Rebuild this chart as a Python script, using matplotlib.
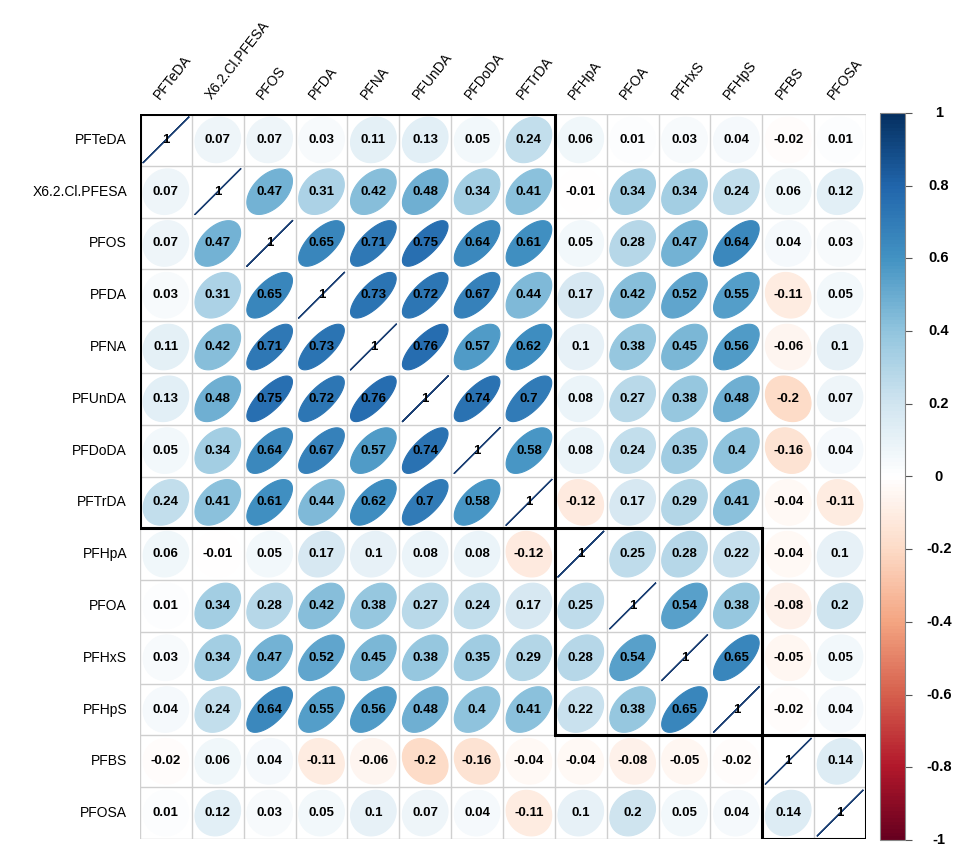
import numpy as np
import matplotlib
matplotlib.use("Agg")
import matplotlib.pyplot as plt
from matplotlib.colors import LinearSegmentedColormap, Normalize
from matplotlib.patches import Polygon, Rectangle
from matplotlib.colorbar import ColorbarBase

plt.rcParams['font.family'] = ['Liberation Sans', 'DejaVu Sans']

labels = ["PFTeDA", "X6.2.Cl.PFESA", "PFOS", "PFDA", "PFNA", "PFUnDA", "PFDoDA",
          "PFTrDA", "PFHpA", "PFOA", "PFHxS", "PFHpS", "PFBS", "PFOSA"]

corr_values = [
    [1, 0.07, 0.07, 0.03, 0.11, 0.13, 0.05, 0.24, 0.06, 0.01, 0.03, 0.04, -0.02, 0.01],
    [0.07, 1, 0.47, 0.31, 0.42, 0.48, 0.34, 0.41, -0.01, 0.34, 0.34, 0.24, 0.06, 0.12],
    [0.07, 0.47, 1, 0.65, 0.71, 0.75, 0.64, 0.61, 0.05, 0.28, 0.47, 0.64, 0.04, 0.03],
    [0.03, 0.31, 0.65, 1, 0.73, 0.72, 0.67, 0.44, 0.17, 0.42, 0.52, 0.55, -0.11, 0.05],
    [0.11, 0.42, 0.71, 0.73, 1, 0.76, 0.57, 0.62, 0.1, 0.38, 0.45, 0.56, -0.06, 0.1],
    [0.13, 0.48, 0.75, 0.72, 0.76, 1, 0.74, 0.7, 0.08, 0.27, 0.38, 0.48, -0.2, 0.07],
    [0.05, 0.34, 0.64, 0.67, 0.57, 0.74, 1, 0.58, 0.08, 0.24, 0.35, 0.4, -0.16, 0.04],
    [0.24, 0.41, 0.61, 0.44, 0.62, 0.7, 0.58, 1, -0.12, 0.17, 0.29, 0.41, -0.04, -0.11],
    [0.06, -0.01, 0.05, 0.17, 0.1, 0.08, 0.08, -0.12, 1, 0.25, 0.28, 0.22, -0.04, 0.1],
    [0.01, 0.34, 0.28, 0.42, 0.38, 0.27, 0.24, 0.17, 0.25, 1, 0.54, 0.38, -0.08, 0.2],
    [0.03, 0.34, 0.47, 0.52, 0.45, 0.38, 0.35, 0.29, 0.28, 0.54, 1, 0.65, -0.05, 0.05],
    [0.04, 0.24, 0.64, 0.55, 0.56, 0.48, 0.4, 0.41, 0.22, 0.38, 0.65, 1, -0.02, 0.04],
    [-0.02, 0.06, 0.04, -0.11, -0.06, -0.2, -0.16, -0.04, -0.04, -0.08, -0.05, -0.02, 1, 0.14],
    [0.01, 0.12, 0.03, 0.05, 0.1, 0.07, 0.04, -0.11, 0.1, 0.2, 0.05, 0.04, 0.14, 1],
]

# cluster groups (first index, last index)
clusters = [(0, 7), (8, 11), (12, 13)]

colorbar_ticks = [1, 0.8, 0.6, 0.4, 0.2, 0, -0.2, -0.4, -0.6, -0.8, -1]

cmap = LinearSegmentedColormap.from_list(
    "corrRdBu",
    ["#67001F", "#B2182B", "#D6604D", "#F4A582", "#FDDBC7", "#FFFFFF",
     "#D1E5F0", "#92C5DE", "#4393C3", "#2166AC", "#053061"], N=200)
norm = Normalize(-1, 1)

W, H = 956, 847
fig = plt.figure(figsize=(W / 100, H / 100), dpi=100)

n = len(labels)
gx0, gx1, gy0, gy1 = 140, 866, 114, 839
ax = fig.add_axes([gx0 / W, 1 - gy1 / H, (gx1 - gx0) / W, (gy1 - gy0) / H])
ax.set_xlim(-0.5, n - 0.5)
ax.set_ylim(n - 0.5, -0.5)
ax.set_axis_off()

# grid
for k in range(n + 1):
    ax.plot([k - 0.5, k - 0.5], [-0.5, n - 0.5], color="#cfcfcf", lw=1.0, zorder=1)
    ax.plot([-0.5, n - 0.5], [k - 0.5, k - 0.5], color="#cfcfcf", lw=1.0, zorder=1)

t = np.linspace(0, 2 * np.pi, 99)
M = np.array(corr_values, dtype=float)
for i in range(n):
    for j in range(n):
        r = M[i, j]
        a = np.arccos(np.clip(r, -1, 1)) / 2
        ex = np.cos(t + a) / 2 * 0.88
        ey = np.cos(t - a) / 2 * 0.88
        col = cmap(norm(r))
        if i == j:
            ax.plot(j + ex, i - ey, color="#1b3f73", lw=1.0, zorder=2)
        else:
            poly = Polygon(np.column_stack([j + ex, i - ey]), closed=True,
                           facecolor=col, edgecolor=col, lw=0.8, zorder=2)
            ax.add_patch(poly)
        txt = f"{r:g}"
        ax.text(j, i, txt, ha="center", va="center", fontsize=9.5,
                fontweight="bold", color="black", zorder=3)

for a0, a1 in clusters:
    ax.add_patch(Rectangle((a0 - 0.5, a0 - 0.5), a1 - a0 + 1, a1 - a0 + 1,
                           fill=False, edgecolor="black", lw=2.2, zorder=4))

# row labels
for i, lab in enumerate(labels):
    ax.text(-0.75, i, lab, ha="right", va="center", fontsize=10, color="black")
# column labels
for j, lab in enumerate(labels):
    ax.text(j - 0.08, -0.74, lab, ha="left", va="bottom", rotation=52,
            rotation_mode="anchor", fontsize=10, color="black")

# colorbar
cax = fig.add_axes([880 / W, 1 - 840 / H, 25 / W, (840 - 113) / H])
cb = ColorbarBase(cax, cmap=cmap, norm=norm, orientation="vertical")
cb.set_ticks(colorbar_ticks)
cb.set_ticklabels([""] * len(colorbar_ticks))
cb.outline.set_edgecolor("#888888")
cb.outline.set_linewidth(0.8)
cax.tick_params(axis="y", length=5, width=0.8, color="#555555")
for v in colorbar_ticks:
    cax.text(2.35, v, f"{v:g}", transform=cax.get_yaxis_transform(),
             ha="center", va="center", fontsize=10.5, fontweight="bold",
             color="black")

fig.savefig("out.png", dpi=100, facecolor="white")
